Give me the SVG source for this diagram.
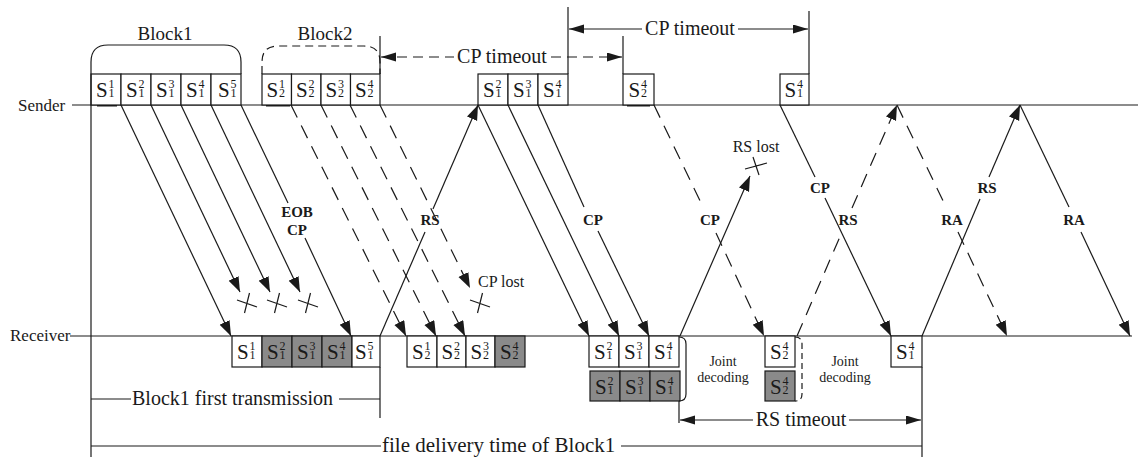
<svg xmlns="http://www.w3.org/2000/svg" width="1138" height="460" viewBox="0 0 1138 460" font-family="Liberation Serif, Times New Roman, serif">
  <style>
    text { font-family: "Liberation Serif", "Times New Roman", Times, serif; fill: #1a1a1a; }
    .ln { stroke: #1a1a1a; stroke-width: 1.2; fill: none; }
    .dash { stroke-dasharray: 14 9; }
    .tdash { stroke-dasharray: 10 6; }
    .box { fill: #ffffff; stroke: #1a1a1a; stroke-width: 1.2; }
    .gbox { fill: #8a8a8a; stroke: #1a1a1a; stroke-width: 1.2; }
    .s { font-size: 21px; }
    .i { font-size: 12px; }
    .lbl { font-size: 15px; font-weight: bold; text-anchor: middle; }
    .big { font-size: 20px; }
    .mid { text-anchor: middle; }
    .small { font-size: 14px; text-anchor: middle; }
    .thick { stroke: #1a1a1a; stroke-width: 3; }
  </style>
  <defs>
    <marker id="ah" markerUnits="userSpaceOnUse" markerWidth="16" markerHeight="12" refX="15" refY="5.5" orient="auto">
      <path d="M0,0 L15,5.5 L0,11 z" fill="#1a1a1a"/>
    </marker>
    <marker id="ahs" markerUnits="userSpaceOnUse" markerWidth="16" markerHeight="10" refX="15" refY="4.5" orient="auto-start-reverse">
      <path d="M0,0 L15,4.5 L0,9 z" fill="#1a1a1a"/>
    </marker>
    <path id="cross" d="M-10,-3 L10,4 M2.5,-10 L-2.5,10" class="ln"/>
    <path id="cross2" d="M-11,3 L11,-3 M-3,-9 L3,9" class="ln"/>
  </defs>

  <!-- time axes -->
  <g id="sender">
    <text x="18" y="111" font-size="17">Sender</text>
    <line class="ln" x1="72" y1="105" x2="1138" y2="105"/>
    <line class="thick" x1="97" y1="105" x2="117" y2="105"/>
    <line class="thick" x1="266" y1="105" x2="290" y2="105"/>
    <line class="thick" x1="627" y1="105" x2="650" y2="105"/>
  </g>
  <g id="receiver">
    <text x="10" y="341" font-size="17">Receiver</text>
    <line class="ln" x1="70" y1="336" x2="1132" y2="336"/>
  </g>

  <!-- sender segments, block 1 -->
  <g id="block1">
    <path class="ln" d="M91,74 V62 Q91,45 108,45 H224 Q241,45 241,62 V74"/>
    <text class="mid" x="165" y="40" font-size="19">Block1</text>
  </g>
  <g id="snd-s11"><rect class="box" x="91" y="74" width="30" height="31"/><text x="96" y="97"><tspan class="s">S</tspan><tspan class="i" x="108.5" y="88">1</tspan><tspan class="i" x="108.5" y="97">1</tspan></text></g>
  <g id="snd-s12"><rect class="box" x="121" y="74" width="30" height="31"/><text x="126" y="97"><tspan class="s">S</tspan><tspan class="i" x="138.5" y="88">2</tspan><tspan class="i" x="138.5" y="97">1</tspan></text></g>
  <g id="snd-s13"><rect class="box" x="151" y="74" width="30" height="31"/><text x="156" y="97"><tspan class="s">S</tspan><tspan class="i" x="168.5" y="88">3</tspan><tspan class="i" x="168.5" y="97">1</tspan></text></g>
  <g id="snd-s14"><rect class="box" x="181" y="74" width="30" height="31"/><text x="186" y="97"><tspan class="s">S</tspan><tspan class="i" x="198.5" y="88">4</tspan><tspan class="i" x="198.5" y="97">1</tspan></text></g>
  <g id="snd-s15"><rect class="box" x="211" y="74" width="30" height="31"/><text x="218" y="97"><tspan class="s">S</tspan><tspan class="i" x="230.5" y="88">5</tspan><tspan class="i" x="230.5" y="97">1</tspan></text></g>

  <!-- sender segments, block 2 -->
  <g id="block2">
    <path class="ln" d="M262,74 V62 Q262,46 278,46 H364 Q380,46 380,62 V74" stroke-dasharray="8 5"/>
    <text class="mid" x="325" y="40" font-size="19">Block2</text>
  </g>
  <g id="snd-s21"><rect class="box" x="262" y="74" width="29.5" height="31"/><text x="266.5" y="97"><tspan class="s">S</tspan><tspan class="i" x="279" y="88">1</tspan><tspan class="i" x="279" y="97">2</tspan></text></g>
  <g id="snd-s22"><rect class="box" x="291.5" y="74" width="29.5" height="31"/><text x="296" y="97"><tspan class="s">S</tspan><tspan class="i" x="308.5" y="88">2</tspan><tspan class="i" x="308.5" y="97">2</tspan></text></g>
  <g id="snd-s23"><rect class="box" x="321" y="74" width="29.5" height="31"/><text x="325.5" y="97"><tspan class="s">S</tspan><tspan class="i" x="338" y="88">3</tspan><tspan class="i" x="338" y="97">2</tspan></text></g>
  <g id="snd-s24"><rect class="box" x="350.5" y="74" width="29.5" height="31"/><text x="355" y="97"><tspan class="s">S</tspan><tspan class="i" x="367.5" y="88">4</tspan><tspan class="i" x="367.5" y="97">2</tspan></text></g>

  <!-- retransmitted segments -->
  <g id="snd-r12"><rect class="box" x="478" y="74" width="30" height="31"/><text x="483" y="97"><tspan class="s">S</tspan><tspan class="i" x="495.5" y="88">2</tspan><tspan class="i" x="495.5" y="97">1</tspan></text></g>
  <g id="snd-r13"><rect class="box" x="508" y="74" width="30" height="31"/><text x="513" y="97"><tspan class="s">S</tspan><tspan class="i" x="525.5" y="88">3</tspan><tspan class="i" x="525.5" y="97">1</tspan></text></g>
  <g id="snd-r14"><rect class="box" x="538" y="74" width="30" height="31"/><text x="543" y="97"><tspan class="s">S</tspan><tspan class="i" x="555.5" y="88">4</tspan><tspan class="i" x="555.5" y="97">1</tspan></text></g>
  <g id="snd-r24"><rect class="box" x="623" y="74" width="31" height="31"/><text x="628.5" y="97"><tspan class="s">S</tspan><tspan class="i" x="641" y="88">4</tspan><tspan class="i" x="641" y="97">2</tspan></text></g>
  <g id="snd-r14b"><rect class="box" x="780" y="74" width="29" height="31"/><text x="784.5" y="97"><tspan class="s">S</tspan><tspan class="i" x="797" y="88">4</tspan><tspan class="i" x="797" y="97">1</tspan></text></g>

  <!-- timers on the sender side -->
  <g id="cp-timeout-1">
    <line class="ln" x1="380" y1="36" x2="380" y2="74"/>
    <line class="ln" x1="623" y1="36" x2="623" y2="74"/>
    <line class="ln tdash" x1="381" y1="57" x2="454" y2="57" marker-start="url(#ahs)"/>
    <line class="ln tdash" x1="551" y1="57" x2="622" y2="57" marker-end="url(#ahs)"/>
    <text class="big mid" x="502" y="63">CP timeout</text>
  </g>
  <g id="cp-timeout-2">
    <line class="ln" x1="568" y1="7" x2="568" y2="74"/>
    <line class="ln" x1="809" y1="11" x2="809" y2="74"/>
    <line class="ln" x1="569" y1="29" x2="642" y2="29" marker-start="url(#ahs)"/>
    <line class="ln" x1="738" y1="29" x2="808" y2="29" marker-end="url(#ahs)"/>
    <text class="big mid" x="690" y="35">CP timeout</text>
  </g>

  <!-- receiver buffers -->
  <g id="rcv-b1">
    <rect class="box" x="232" y="336" width="30" height="31"/><text x="237" y="359"><tspan class="s">S</tspan><tspan class="i" x="249.5" y="350">1</tspan><tspan class="i" x="249.5" y="359">1</tspan></text>
    <rect class="gbox" x="262" y="336" width="30" height="31"/><text x="267" y="359"><tspan class="s">S</tspan><tspan class="i" x="279.5" y="350">2</tspan><tspan class="i" x="279.5" y="359">1</tspan></text>
    <rect class="gbox" x="292" y="336" width="30" height="31"/><text x="297" y="359"><tspan class="s">S</tspan><tspan class="i" x="309.5" y="350">3</tspan><tspan class="i" x="309.5" y="359">1</tspan></text>
    <rect class="gbox" x="322" y="336" width="30" height="31"/><text x="327" y="359"><tspan class="s">S</tspan><tspan class="i" x="339.5" y="350">4</tspan><tspan class="i" x="339.5" y="359">1</tspan></text>
    <rect class="box" x="352" y="336" width="28" height="31"/><text x="355" y="359"><tspan class="s">S</tspan><tspan class="i" x="367.5" y="350">5</tspan><tspan class="i" x="367.5" y="359">1</tspan></text>
  </g>
  <g id="rcv-b2">
    <rect class="box" x="407" y="336" width="30" height="31"/><text x="412" y="359"><tspan class="s">S</tspan><tspan class="i" x="424.5" y="350">1</tspan><tspan class="i" x="424.5" y="359">2</tspan></text>
    <rect class="box" x="437" y="336" width="29" height="31"/><text x="441.5" y="359"><tspan class="s">S</tspan><tspan class="i" x="454" y="350">2</tspan><tspan class="i" x="454" y="359">2</tspan></text>
    <rect class="box" x="466" y="336" width="29" height="31"/><text x="470.5" y="359"><tspan class="s">S</tspan><tspan class="i" x="483" y="350">3</tspan><tspan class="i" x="483" y="359">2</tspan></text>
    <rect class="gbox" x="495" y="336" width="30" height="31"/><text x="500" y="359"><tspan class="s">S</tspan><tspan class="i" x="512.5" y="350">4</tspan><tspan class="i" x="512.5" y="359">2</tspan></text>
  </g>
  <g id="rcv-retx">
    <rect class="box" x="589" y="336" width="30" height="31"/><text x="594" y="359"><tspan class="s">S</tspan><tspan class="i" x="606.5" y="350">2</tspan><tspan class="i" x="606.5" y="359">1</tspan></text>
    <rect class="box" x="619" y="336" width="30" height="31"/><text x="624" y="359"><tspan class="s">S</tspan><tspan class="i" x="636.5" y="350">3</tspan><tspan class="i" x="636.5" y="359">1</tspan></text>
    <rect class="box" x="649" y="336" width="30" height="31"/><text x="654" y="359"><tspan class="s">S</tspan><tspan class="i" x="666.5" y="350">4</tspan><tspan class="i" x="666.5" y="359">1</tspan></text>
    <rect class="gbox" x="590" y="371" width="30" height="30"/><text x="595" y="394"><tspan class="s">S</tspan><tspan class="i" x="607.5" y="385">2</tspan><tspan class="i" x="607.5" y="394">1</tspan></text>
    <rect class="gbox" x="620" y="371" width="30" height="30"/><text x="625" y="394"><tspan class="s">S</tspan><tspan class="i" x="637.5" y="385">3</tspan><tspan class="i" x="637.5" y="394">1</tspan></text>
    <rect class="gbox" x="650" y="371" width="30" height="30"/><text x="655" y="394"><tspan class="s">S</tspan><tspan class="i" x="667.5" y="385">4</tspan><tspan class="i" x="667.5" y="394">1</tspan></text>
    <path class="ln" d="M679,337 Q686,337 686,344 V394 Q686,401 679,401"/>
    <text class="small" x="723" y="366">Joint</text>
    <text class="small" x="723" y="382">decoding</text>
  </g>
  <g id="rcv-s24">
    <rect class="box" x="765" y="336" width="30" height="31"/><text x="770" y="359"><tspan class="s">S</tspan><tspan class="i" x="782.5" y="350">4</tspan><tspan class="i" x="782.5" y="359">2</tspan></text>
    <rect class="gbox" x="765" y="371" width="30" height="30"/><text x="770" y="394"><tspan class="s">S</tspan><tspan class="i" x="782.5" y="385">4</tspan><tspan class="i" x="782.5" y="394">2</tspan></text>
    <path class="ln" d="M795,337 Q802,337 802,344 V394 Q802,401 795,401" stroke-dasharray="6 4"/>
    <text class="small" x="845" y="366">Joint</text>
    <text class="small" x="845" y="382">decoding</text>
  </g>
  <g id="rcv-s14">
    <rect class="box" x="891" y="336" width="31" height="31"/><text x="896" y="359"><tspan class="s">S</tspan><tspan class="i" x="908.5" y="350">4</tspan><tspan class="i" x="908.5" y="359">1</tspan></text>
  </g>

  <!-- messages between sender and receiver -->
  <g id="connectors">
    <!-- block 1, first transmission -->
    <line class="ln" x1="121" y1="105" x2="231" y2="336" marker-end="url(#ah)"/>
    <line class="ln" x1="151" y1="105" x2="240" y2="292" marker-end="url(#ah)"/>
    <line class="ln" x1="181" y1="105" x2="270" y2="292" marker-end="url(#ah)"/>
    <line class="ln" x1="211" y1="105" x2="300" y2="292" marker-end="url(#ah)"/>
    <use href="#cross" x="247" y="303"/>
    <use href="#cross" x="277" y="303"/>
    <use href="#cross" x="308" y="303"/>
    <line class="ln" x1="241" y1="105" x2="288" y2="203"/>
    <line class="ln" x1="305" y1="238" x2="351" y2="336" marker-end="url(#ah)"/>
    <text class="lbl" x="297" y="217">EOB</text>
    <text class="lbl" x="297" y="235">CP</text>

    <!-- block 2, first transmission -->
    <line class="ln dash" x1="291" y1="105" x2="406" y2="336" marker-end="url(#ah)"/>
    <line class="ln dash" x1="321" y1="105" x2="436" y2="336" marker-end="url(#ah)"/>
    <line class="ln dash" x1="350" y1="105" x2="465" y2="336" marker-end="url(#ah)"/>
    <line class="ln dash" x1="380" y1="105" x2="470" y2="288" marker-end="url(#ah)"/>
    <text x="478" y="287" font-size="16">CP lost</text>
    <use href="#cross" x="480" y="303"/>

    <!-- retransmission request -->
    <line class="ln" x1="425" y1="232" x2="380" y2="336"/>
    <line class="ln" x1="433" y1="209" x2="478" y2="105" marker-end="url(#ah)"/>
    <text class="lbl" x="430" y="225">RS</text>

    <!-- retransmitted segments -->
    <line class="ln" x1="478" y1="105" x2="589" y2="336" marker-end="url(#ah)"/>
    <line class="ln" x1="508" y1="105" x2="619" y2="336" marker-end="url(#ah)"/>
    <line class="ln" x1="538" y1="105" x2="584" y2="207"/>
    <line class="ln" x1="598" y1="231" x2="649" y2="336" marker-end="url(#ah)"/>
    <text class="lbl" x="593" y="225">CP</text>

    <line class="ln dash" x1="654" y1="105" x2="703" y2="207"/>
    <line class="ln dash" x1="716" y1="233" x2="764" y2="336" marker-end="url(#ah)"/>
    <text class="lbl" x="710" y="225">CP</text>

    <line class="ln" x1="680" y1="336" x2="750" y2="176" marker-end="url(#ah)"/>
    <text class="mid" x="756" y="152" font-size="16">RS lost</text>
    <use href="#cross2" x="756" y="166"/>

    <line class="ln" x1="780" y1="105" x2="815" y2="177"/>
    <line class="ln" x1="825" y1="198" x2="891" y2="336" marker-end="url(#ah)"/>
    <text class="lbl" x="820" y="193">CP</text>

    <line class="ln dash" x1="797" y1="336" x2="842" y2="232"/>
    <line class="ln dash" x1="852" y1="208" x2="897" y2="105" marker-end="url(#ah)"/>
    <text class="lbl" x="848" y="225">RS</text>

    <line class="ln dash" x1="897" y1="105" x2="946" y2="207"/>
    <line class="ln dash" x1="958" y1="232" x2="1007" y2="336" marker-end="url(#ah)"/>
    <text class="lbl" x="952" y="225">RA</text>

    <line class="ln" x1="922" y1="336" x2="980" y2="199"/>
    <line class="ln" x1="989" y1="177" x2="1020" y2="105" marker-end="url(#ah)"/>
    <text class="lbl" x="987" y="193">RS</text>

    <line class="ln" x1="1020" y1="105" x2="1069" y2="207"/>
    <line class="ln" x1="1081" y1="232" x2="1130" y2="336" marker-end="url(#ah)"/>
    <text class="lbl" x="1074" y="225">RA</text>
  </g>

  <!-- time spans under the receiver -->
  <g id="spans">
    <line class="ln" x1="91" y1="74" x2="91" y2="457"/>
    <line class="ln" x1="380" y1="367" x2="380" y2="418"/>
    <line class="ln" x1="91" y1="399" x2="131" y2="399"/>
    <line class="ln" x1="339" y1="399" x2="380" y2="399"/>
    <text class="big" x="132" y="405">Block1 first transmission</text>

    <line class="ln" x1="922" y1="367" x2="922" y2="457"/>
    <line class="ln" x1="91" y1="446" x2="381" y2="446"/>
    <line class="ln" x1="621" y1="446" x2="922" y2="446"/>
    <text x="382" y="452" font-size="21">file delivery time of Block1</text>

    <line class="ln" x1="679" y1="401" x2="679" y2="423"/>
    <line class="ln" x1="680" y1="420" x2="753" y2="420" marker-start="url(#ahs)"/>
    <line class="ln" x1="849" y1="420" x2="921" y2="420" marker-end="url(#ahs)"/>
    <text class="big mid" x="801" y="426">RS timeout</text>
  </g>
</svg>
